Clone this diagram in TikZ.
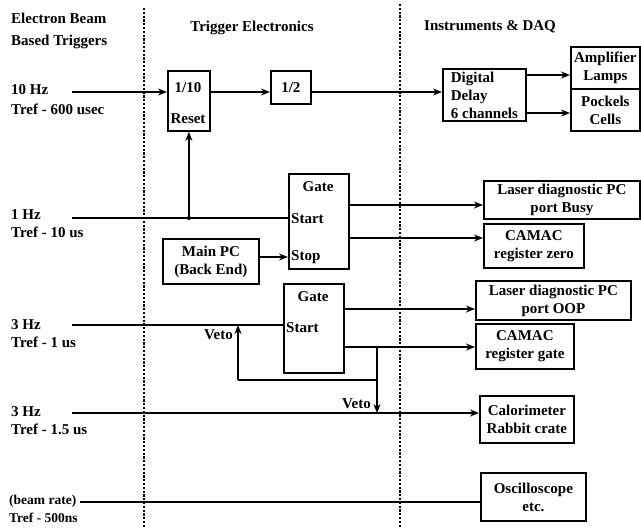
\documentclass[tikz,border=0pt]{standalone}
\usepackage{fontspec}
\setmainfont{Liberation Serif}
\usetikzlibrary{arrows.meta}
\begin{document}
\begin{tikzpicture}[x=1pt, y=-1pt,
  txt/.style={font=\bfseries\fontsize{15}{18}\selectfont, inner sep=1pt},
  box/.style={draw, line width=1.8pt, txt, anchor=north west, inner sep=1pt},
  sig/.style={line width=1.7pt},
  arr/.style={sig, -{Stealth[length=9pt, width=7pt]}},
  divider/.style={line width=1.8pt, dash pattern=on 2.2pt off 1.6pt}]
  \useasboundingbox (0,0) rectangle (641,528);

  % column dividers and headings
  \draw[divider] (144,8) -- (144,528);
  \draw[divider] (400,4) -- (400,528);
  \node[txt, anchor=west, align=left, font=\bfseries\fontsize{15}{22}\selectfont] (hbeam) at (10,31) {Electron Beam\\Based Triggers};
  \node[txt] (htrig) at (252,28) {Trigger Electronics};
  \node[txt, anchor=west] (hdaq) at (423,27) {Instruments \& DAQ};

  % trigger sources
  \node[txt, anchor=west, align=left, font=\bfseries\fontsize{15}{20}\selectfont] (t10) at (10,100) {10 Hz\\Tref - 600 usec};
  \node[txt, anchor=west, align=left] (t1) at (10,224) {1 Hz\\Tref - 10 us};
  \node[txt, anchor=west, align=left] (t3a) at (10,334) {3 Hz\\Tref - 1 us};
  \node[txt, anchor=west, align=left] (t3b) at (10,421) {3 Hz\\Tref - 1.5 us};
  \node[txt, anchor=west, align=left, font=\bfseries\fontsize{13.5}{18}\selectfont] (tbeam) at (8,509) {(beam rate)\\Tref - 500ns};
  \coordinate (in10) at (72,92);
  \coordinate (in1) at (72,218);
  \coordinate (in3a) at (72,325);
  \coordinate (in3b) at (72,413);
  \coordinate (inbeam) at (80,502);

  % trigger electronics
  \node[box, minimum width=42pt, minimum height=60pt] (div) at (167,70) {};
  \node[txt] (divtop) at (188,88) {1/10};
  \node[txt] (divreset) at (188,119) {Reset};
  \node[box, minimum width=40pt, minimum height=33pt] (half) at (270,70) {1/2};
  \node[box, minimum width=60pt, minimum height=95pt] (gateA) at (288,173) {};
  \node[txt] (gateAt) at (318,187) {Gate};
  \node[txt, anchor=west] (gateAstart) at (290,219) {Start};
  \node[txt, anchor=west] (gateAstop) at (290,257) {Stop};
  \node[box, minimum width=96pt, minimum height=45pt, align=center] (mainpc) at (162,238) {Main PC\\(Back End)};
  \node[box, minimum width=60pt, minimum height=89pt] (gateB) at (283,283) {};
  \node[txt] (gateBt) at (313,297) {Gate};
  \node[txt, anchor=west] (gateBstart) at (285,328) {Start};

  % instruments
  \node[box, minimum width=83pt, minimum height=52pt, align=left] (delay) at (442,68) {Digital\\Delay\\6 channels};
  \node[box, minimum width=69pt, minimum height=42pt, align=center] (amp) at (570,46) {Amplifier\\Lamps};
  \node[box, minimum width=69pt, minimum height=42pt, align=center] (pock) at (570,88) {Pockels\\Cells};
  \node[box, minimum width=156pt, minimum height=38pt, align=center] (busy) at (483,180) {Laser diagnostic PC\\port Busy};
  \node[box, minimum width=100pt, minimum height=44pt, align=center] (zero) at (483,223) {CAMAC\\register zero};
  \node[box, minimum width=155pt, minimum height=39pt, align=center] (oop) at (475,280) {Laser diagnostic PC\\port OOP};
  \node[box, minimum width=98pt, minimum height=45pt, align=center] (rgate) at (475,323) {CAMAC\\register gate};
  \node[box, minimum width=94pt, minimum height=47pt, align=center] (calo) at (479,395) {Calorimeter\\Rabbit crate};
  \node[box, minimum width=105pt, minimum height=48pt, align=center] (osc) at (480,472) {Oscilloscope\\etc.};

  % 10 Hz chain
  \draw[arr] (in10) -- (div.west |- in10);
  \draw[arr] (div.east |- in10) -- (half.west |- in10);
  \draw[arr] (half.east |- in10) -- (delay.west |- in10);
  \draw[arr] (delay.east |- 0,75) -- (amp.west |- 0,75);
  \draw[arr] (delay.east |- 0,113) -- (pock.west |- 0,113);

  % 1 Hz: reset and gate
  \draw[sig] (in1) -- (gateA.west |- in1);
  \coordinate (rj) at (div.south |- in1);
  \fill (rj) circle (2pt);
  \draw[arr] (rj) -- (div.south);
  \draw[arr] (mainpc.east |- 0,257) -- (gateA.west |- 0,257);
  \draw[arr] (gateA.east |- 0,205) -- (busy.west |- 0,205);
  \draw[arr] (gateA.east |- 0,238) -- (zero.west |- 0,238);

  % 3 Hz gate with vetoes
  \draw[sig] (in3a) -- (gateB.west |- in3a);
  \draw[arr] (gateB.east |- 0,309) -- (oop.west |- 0,309);
  \draw[arr] (gateB.east |- 0,347) -- (rgate.west |- 0,347);
  \coordinate (vsplit) at (377,347);
  \coordinate (vturn) at (377,380);
  \coordinate (vcorner) at (238,380);
  \draw[sig] (vsplit) -- (vturn) -- (vcorner);
  \draw[arr] (vcorner) -- (vcorner |- in3a);
  \draw[arr] (vturn) -- (vturn |- in3b);
  \node[txt, anchor=east] (vetoA) at (234,335) {Veto};
  \node[txt, anchor=east] (vetoB) at (372,404) {Veto};

  % remaining triggers
  \draw[arr] (in3b) -- (calo.west |- in3b);
  \draw[sig] (inbeam) -- (osc.west |- inbeam);
\end{tikzpicture}
\end{document}
